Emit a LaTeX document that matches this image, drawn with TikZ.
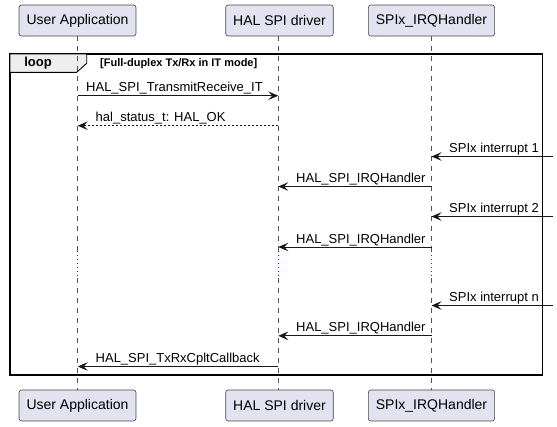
\documentclass[tikz,border=0pt]{standalone}
\usepackage{fontspec}
\setmainfont{Liberation Sans}
\usetikzlibrary{arrows.meta}
\definecolor{partfill}{HTML}{E2E2F0}
\definecolor{partline}{HTML}{181818}
\definecolor{tabfill}{HTML}{EEEEEE}
\definecolor{delaycol}{HTML}{A80036}
\tikzset{
  part/.style={draw=partline!80, line width=0.6pt, fill=partfill, rounded corners=2.5pt,
    minimum height=31pt, inner xsep=7.5pt, font=\fontsize{14}{16}\selectfont},
  lifeline/.style={draw=partline!75, line width=0.5pt, dash pattern=on 5pt off 5pt},
  delayline/.style={draw=delaycol, line width=0.8pt, dash pattern=on 0.8pt off 3.2pt},
  msg/.style={draw=partline, line width=0.9pt, -{Stealth[length=10pt,width=8.5pt,inset=4pt]}},
  reply/.style={msg, dash pattern=on 2pt off 2pt},
  lbl/.style={font=\fontsize{13}{15}\selectfont, inner sep=0pt, anchor=base west},
  framebox/.style={draw=black, line width=1.6pt},
}
\begin{document}
\begin{tikzpicture}[x=1pt,y=-1pt]
\useasboundingbox (0,0) rectangle (557,426);
% frame
\draw[framebox] (10,54) rectangle (542.5,375);
\draw[fill=tabfill, draw=black, line width=0.9pt] (10,54) -- (86.7,54) -- (86.7,63.3) -- (76.7,72.3) -- (10,72.3) -- cycle;
\node[font=\bfseries\fontsize{13}{15}\selectfont, inner sep=0pt] (looplbl) at (38,63.5) {loop};
\node[font=\bfseries\fontsize{11}{13}\selectfont, inner sep=0pt, anchor=west] (cond) at (100,63.3) {[Full-duplex Tx/Rx in IT mode]};
% participants
\node[part] (uT) at (77.5,20.5) {User Application};
\node[part] (hT) at (279.5,20.5) {HAL SPI driver};
\node[part] (sT) at (431.5,20.5) {SPIx\_IRQHandler};
\node[part] (uB) at (77.5,405.5) {User Application};
\node[part] (hB) at (279.5,405.5) {HAL SPI driver};
\node[part] (sB) at (431.5,405.5) {SPIx\_IRQHandler};
% lifeline points
\foreach \n/\x in {u/77.7, h/278.3, s/431.5}{
  \coordinate (\n d1) at (\x,251);
  \coordinate (\n d2) at (\x,278);
}
\draw[lifeline] (uT.south -| ud1) -- (ud1);
\draw[delayline] (ud1) -- (ud2);
\draw[lifeline] (ud2) -- (uB.north -| ud2);
\draw[lifeline] (hT.south -| hd1) -- (hd1);
\draw[delayline] (hd1) -- (hd2);
\draw[lifeline] (hd2) -- (hB.north -| hd2);
\draw[lifeline] (sT.south -| sd1) -- (sd1);
\draw[delayline] (sd1) -- (sd2);
\draw[lifeline] (sd2) -- (sB.north -| sd2);
% message endpoints
\coordinate (m1a) at (77.7,95.7);   \coordinate (m1b) at (278.3,95.7);
\coordinate (m2a) at (278.3,125.7); \coordinate (m2b) at (77.7,125.7);
\coordinate (m3a) at (553,156.5);   \coordinate (m3b) at (431.5,156.5);
\coordinate (m4a) at (431.5,186.5); \coordinate (m4b) at (278.3,186.5);
\coordinate (m5a) at (553,216.5);   \coordinate (m5b) at (431.5,216.5);
\coordinate (m6a) at (431.5,247);   \coordinate (m6b) at (278.3,247);
\coordinate (m7a) at (553,305.5);   \coordinate (m7b) at (431.5,305.5);
\coordinate (m8a) at (431.5,335.8); \coordinate (m8b) at (278.3,335.8);
\coordinate (m9a) at (278.3,366.5); \coordinate (m9b) at (77.7,366.5);
% messages
\draw[msg] (m1a) -- (m1b);
\node[lbl] (t1) at (86,91.7) {HAL\_SPI\_TransmitReceive\_IT};
\draw[reply] (m2a) -- (m2b);
\node[lbl] (t2) at (95.5,121.7) {hal\_status\_t: HAL\_OK};
\draw[msg] (m3a) -- (m3b);
\node[lbl] (t3) at (449,152.5) {SPIx interrupt 1};
\draw[msg] (m4a) -- (m4b);
\node[lbl] (t4) at (296,182.5) {HAL\_SPI\_IRQHandler};
\draw[msg] (m5a) -- (m5b);
\node[lbl] (t5) at (449,212.5) {SPIx interrupt 2};
\draw[msg] (m6a) -- (m6b);
\node[lbl] (t6) at (296,243) {HAL\_SPI\_IRQHandler};
\draw[msg] (m7a) -- (m7b);
\node[lbl] (t7) at (449,301.5) {SPIx interrupt n};
\draw[msg] (m8a) -- (m8b);
\node[lbl] (t8) at (296,331.8) {HAL\_SPI\_IRQHandler};
\draw[msg] (m9a) -- (m9b);
\node[lbl] (t9) at (95.5,362.5) {HAL\_SPI\_TxRxCpltCallback};
\end{tikzpicture}
\end{document}
